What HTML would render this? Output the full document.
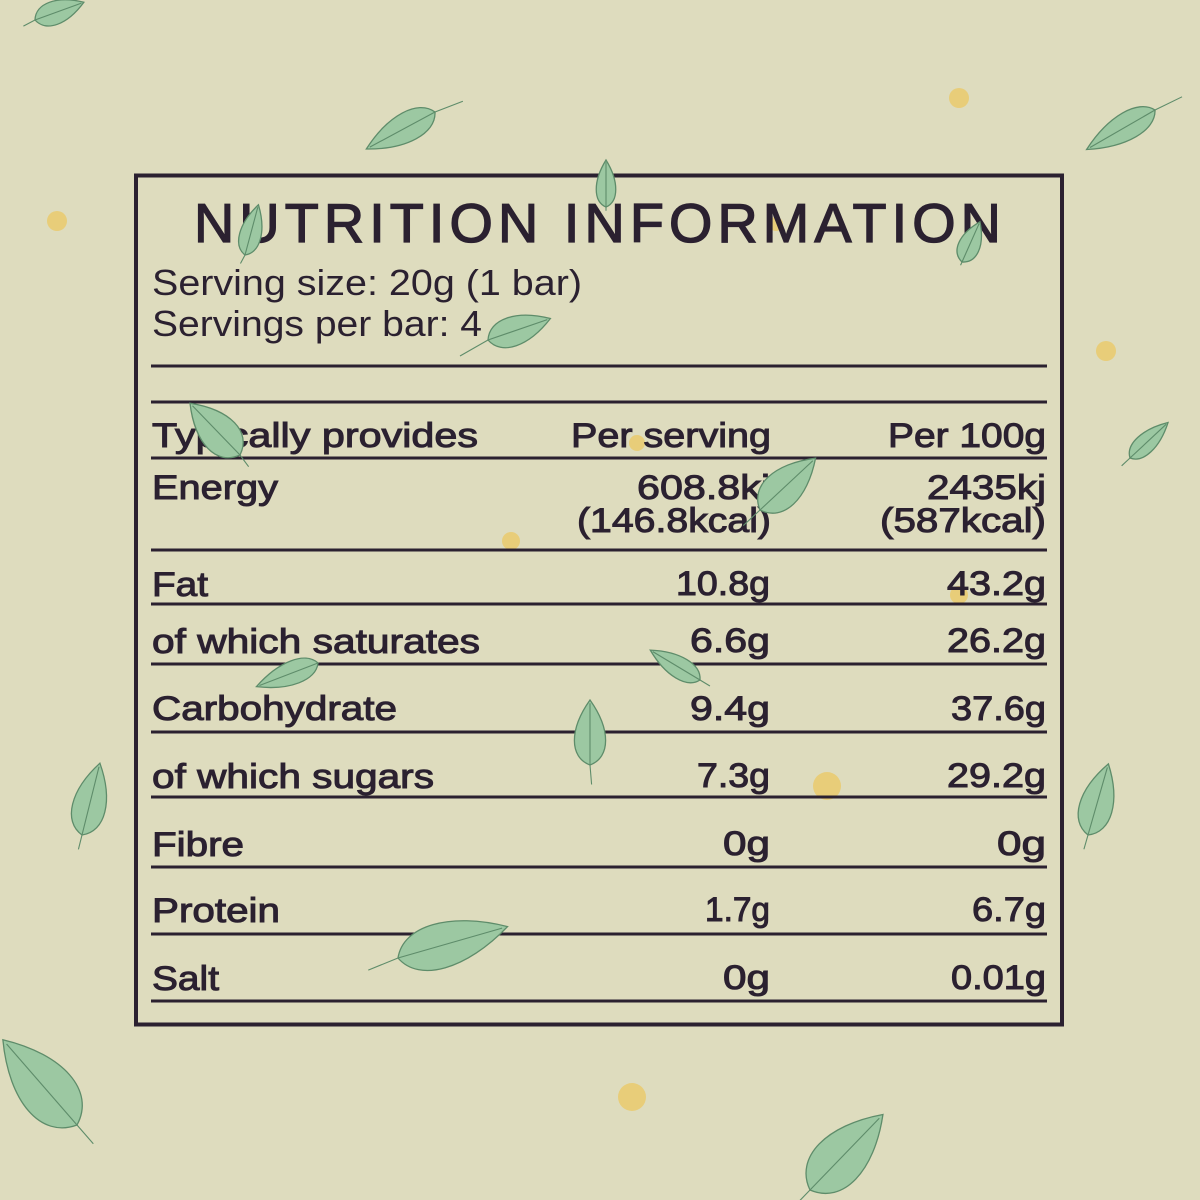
<!DOCTYPE html>
<html>
<head>
<meta charset="utf-8">
<style>
html,body{margin:0;padding:0;background:#dedcbe;}
svg{display:block;}
.t{font-family:"Liberation Sans",sans-serif;fill:#2b2130;}
.r{font-size:34px;stroke:#2b2130;stroke-width:1.0px;}
.lf{fill:#9cc8a2;stroke:#5e8c6a;stroke-width:1.3;}
.mr{fill:none;stroke:#5e8c6a;stroke-width:1.1;}
</style>
</head>
<body>
<svg width="1200" height="1200" viewBox="0 0 1200 1200" xmlns="http://www.w3.org/2000/svg">
<rect x="0" y="0" width="1200" height="1200" fill="#dedcbe"/>

<!-- dots -->
<g fill="#e8cd79">
<circle cx="959" cy="98" r="10"/>
<circle cx="57" cy="221" r="10"/>
<circle cx="1106" cy="351" r="10"/>
<circle cx="511" cy="541" r="9"/>
<circle cx="637" cy="443" r="8"/>
<circle cx="776" cy="224" r="7"/>
<circle cx="959" cy="595" r="9"/>
<circle cx="827" cy="786" r="14"/>
<circle cx="632" cy="1097" r="14"/>
</g>

<!-- box and lines -->
<rect x="136" y="175.5" width="926" height="849" fill="none" stroke="#2b2130" stroke-width="4"/>
<g stroke="#2b2130" stroke-width="3">
<line x1="151" y1="366" x2="1047" y2="366"/>
<line x1="151" y1="402" x2="1047" y2="402"/>
<line x1="151" y1="458" x2="1047" y2="458"/>
<line x1="151" y1="550" x2="1047" y2="550"/>
<line x1="151" y1="604" x2="1047" y2="604"/>
<line x1="151" y1="664" x2="1047" y2="664"/>
<line x1="151" y1="732" x2="1047" y2="732"/>
<line x1="151" y1="797" x2="1047" y2="797"/>
<line x1="151" y1="867" x2="1047" y2="867"/>
<line x1="151" y1="934" x2="1047" y2="934"/>
<line x1="151" y1="1001" x2="1047" y2="1001"/>
</g>

<!-- text -->
<text class="t" x="194" y="242" font-size="54.5" letter-spacing="5" textLength="812" lengthAdjust="spacingAndGlyphs" stroke="#2b2130" stroke-width="1.3">NUTRITION INFORMATION</text>
<text class="t" x="152" y="295" font-size="36" textLength="430" lengthAdjust="spacingAndGlyphs">Serving size: 20g (1 bar)</text>
<text class="t" x="152" y="336" font-size="36" textLength="330" lengthAdjust="spacingAndGlyphs">Servings per bar: 4</text>

<g class="t r">
<text x="152" y="447" textLength="326" lengthAdjust="spacingAndGlyphs">Typically provides</text>
<text x="771" y="447" text-anchor="end" textLength="200" lengthAdjust="spacingAndGlyphs">Per serving</text>
<text x="1046" y="447" text-anchor="end" textLength="158" lengthAdjust="spacingAndGlyphs">Per 100g</text>

<text x="152" y="499" textLength="126" lengthAdjust="spacingAndGlyphs">Energy</text>
<text x="770" y="499" text-anchor="end" textLength="133" lengthAdjust="spacingAndGlyphs">608.8kj</text>
<text x="771" y="532" text-anchor="end" textLength="194" lengthAdjust="spacingAndGlyphs">(146.8kcal)</text>
<text x="1046" y="499" text-anchor="end" textLength="119" lengthAdjust="spacingAndGlyphs">2435kj</text>
<text x="1046" y="532" text-anchor="end" textLength="166" lengthAdjust="spacingAndGlyphs">(587kcal)</text>

<text x="152" y="596" textLength="56" lengthAdjust="spacingAndGlyphs">Fat</text>
<text x="770" y="595" text-anchor="end" textLength="94" lengthAdjust="spacingAndGlyphs">10.8g</text>
<text x="1046" y="595" text-anchor="end" textLength="99" lengthAdjust="spacingAndGlyphs">43.2g</text>

<text x="152" y="653" textLength="328" lengthAdjust="spacingAndGlyphs">of which saturates</text>
<text x="770" y="652" text-anchor="end" textLength="80" lengthAdjust="spacingAndGlyphs">6.6g</text>
<text x="1046" y="652" text-anchor="end" textLength="99" lengthAdjust="spacingAndGlyphs">26.2g</text>

<text x="152" y="720" textLength="245" lengthAdjust="spacingAndGlyphs">Carbohydrate</text>
<text x="770" y="720" text-anchor="end" textLength="80" lengthAdjust="spacingAndGlyphs">9.4g</text>
<text x="1046" y="720" text-anchor="end" textLength="95" lengthAdjust="spacingAndGlyphs">37.6g</text>

<text x="152" y="788" textLength="282" lengthAdjust="spacingAndGlyphs">of which sugars</text>
<text x="770" y="787" text-anchor="end" textLength="73" lengthAdjust="spacingAndGlyphs">7.3g</text>
<text x="1046" y="787" text-anchor="end" textLength="99" lengthAdjust="spacingAndGlyphs">29.2g</text>

<text x="152" y="856" textLength="92" lengthAdjust="spacingAndGlyphs">Fibre</text>
<text x="770" y="855" text-anchor="end" textLength="47" lengthAdjust="spacingAndGlyphs">0g</text>
<text x="1046" y="855" text-anchor="end" textLength="49" lengthAdjust="spacingAndGlyphs">0g</text>

<text x="152" y="922" textLength="128" lengthAdjust="spacingAndGlyphs">Protein</text>
<text x="770" y="921" text-anchor="end" textLength="65" lengthAdjust="spacingAndGlyphs">1.7g</text>
<text x="1046" y="921" text-anchor="end" textLength="74" lengthAdjust="spacingAndGlyphs">6.7g</text>

<text x="152" y="990" textLength="67" lengthAdjust="spacingAndGlyphs">Salt</text>
<text x="770" y="989" text-anchor="end" textLength="47" lengthAdjust="spacingAndGlyphs">0g</text>
<text x="1046" y="989" text-anchor="end" textLength="95" lengthAdjust="spacingAndGlyphs">0.01g</text>
</g>

<!-- leaves: base at origin, tip at +x (100 units) -->
<g>
<g transform="translate(35,20) rotate(-20) scale(0.52,0.6)">
<path class="lf" vector-effect="non-scaling-stroke" d="M0,0 C12,-26 55,-26 100,0 C55,26 12,26 0,0 Z"/>
<path class="mr" vector-effect="non-scaling-stroke" d="M-25,3 L0,0 L95,0"/>
</g>
<g transform="translate(435,112) rotate(151.7) scale(0.78,0.75)">
<path class="lf" vector-effect="non-scaling-stroke" d="M0,0 C12,-26 55,-26 100,0 C55,26 12,26 0,0 Z"/>
<path class="mr" vector-effect="non-scaling-stroke" d="M-38,-5 L0,0 L95,0"/>
</g>
<g transform="translate(606,207) rotate(-90) scale(0.47,0.5)">
<path class="lf" vector-effect="non-scaling-stroke" d="M0,0 C12,-26 55,-26 100,0 C55,26 12,26 0,0 Z"/>
<path class="mr" vector-effect="non-scaling-stroke" d="M-8,0 L95,0"/>
</g>
<g transform="translate(1155,110) rotate(150) scale(0.79,0.7)">
<path class="lf" vector-effect="non-scaling-stroke" d="M0,0 C12,-26 55,-26 100,0 C55,26 12,26 0,0 Z"/>
<path class="mr" vector-effect="non-scaling-stroke" d="M-38,-3 L0,0 L95,0"/>
</g>
<g transform="translate(245,255) rotate(-75) scale(0.52,0.55)">
<path class="lf" vector-effect="non-scaling-stroke" d="M0,0 C12,-26 55,-26 100,0 C55,26 12,26 0,0 Z"/>
<path class="mr" vector-effect="non-scaling-stroke" d="M-18,-4 L0,0 L95,0"/>
</g>
<g transform="translate(962,262) rotate(-66) scale(0.44,0.55)">
<path class="lf" vector-effect="non-scaling-stroke" d="M0,0 C12,-26 55,-26 100,0 C55,26 12,26 0,0 Z"/>
<path class="mr" vector-effect="non-scaling-stroke" d="M-8,0 L95,0"/>
</g>
<g transform="translate(488,340) rotate(-19) scale(0.66,0.75)">
<path class="lf" vector-effect="non-scaling-stroke" d="M0,0 C12,-26 55,-26 100,0 C55,26 12,26 0,0 Z"/>
<path class="mr" vector-effect="non-scaling-stroke" d="M-48,8 L0,0 L95,0"/>
</g>
<g transform="translate(240,455) rotate(-134) scale(0.72,0.95)">
<path class="lf" vector-effect="non-scaling-stroke" d="M0,0 C12,-26 55,-26 100,0 C55,26 12,26 0,0 Z"/>
<path class="mr" vector-effect="non-scaling-stroke" d="M-20,-2 L0,0 L95,0"/>
</g>
<g transform="translate(1130,458) rotate(-43) scale(0.52,0.5)">
<path class="lf" vector-effect="non-scaling-stroke" d="M0,0 C12,-26 55,-26 100,0 C55,26 12,26 0,0 Z"/>
<path class="mr" vector-effect="non-scaling-stroke" d="M-22,0 L0,0 L95,0"/>
</g>
<g transform="translate(760,510) rotate(-43) scale(0.76,0.95)">
<path class="lf" vector-effect="non-scaling-stroke" d="M0,0 C12,-26 55,-26 100,0 C55,26 12,26 0,0 Z"/>
<path class="mr" vector-effect="non-scaling-stroke" d="M-30,0 L0,0 L95,0"/>
</g>
<g transform="translate(318,663) rotate(159) scale(0.66,0.6)">
<path class="lf" vector-effect="non-scaling-stroke" d="M0,0 C12,-26 55,-26 100,0 C55,26 12,26 0,0 Z"/>
<path class="mr" vector-effect="non-scaling-stroke" d="M0,0 L95,0"/>
</g>
<g transform="translate(700,680) rotate(-149) scale(0.58,0.55)">
<path class="lf" vector-effect="non-scaling-stroke" d="M0,0 C12,-26 55,-26 100,0 C55,26 12,26 0,0 Z"/>
<path class="mr" vector-effect="non-scaling-stroke" d="M-20,0 L0,0 L95,0"/>
</g>
<g transform="translate(590,765) rotate(-90) scale(0.65,0.8)">
<path class="lf" vector-effect="non-scaling-stroke" d="M0,0 C12,-26 55,-26 100,0 C55,26 12,26 0,0 Z"/>
<path class="mr" vector-effect="non-scaling-stroke" d="M-30,2 L0,0 L95,0"/>
</g>
<g transform="translate(82,835) rotate(-76) scale(0.74,0.85)">
<path class="lf" vector-effect="non-scaling-stroke" d="M0,0 C12,-26 55,-26 100,0 C55,26 12,26 0,0 Z"/>
<path class="mr" vector-effect="non-scaling-stroke" d="M-20,0 L0,0 L95,0"/>
</g>
<g transform="translate(1088,835) rotate(-74) scale(0.74,0.85)">
<path class="lf" vector-effect="non-scaling-stroke" d="M0,0 C12,-26 55,-26 100,0 C55,26 12,26 0,0 Z"/>
<path class="mr" vector-effect="non-scaling-stroke" d="M-20,0 L0,0 L95,0"/>
</g>
<g transform="translate(398,958) rotate(-16) scale(1.14,1.15)">
<path class="lf" vector-effect="non-scaling-stroke" d="M0,0 C12,-26 55,-26 100,0 C55,26 12,26 0,0 Z"/>
<path class="mr" vector-effect="non-scaling-stroke" d="M-28,3 L0,0 L95,0"/>
</g>
<g transform="translate(77,1125) rotate(-131) scale(1.13,1.4)">
<path class="lf" vector-effect="non-scaling-stroke" d="M0,0 C12,-26 55,-26 100,0 C55,26 12,26 0,0 Z"/>
<path class="mr" vector-effect="non-scaling-stroke" d="M-22,0 L0,0 L95,0"/>
</g>
<g transform="translate(810,1190) rotate(-46) scale(1.05,1.3)">
<path class="lf" vector-effect="non-scaling-stroke" d="M0,0 C12,-26 55,-26 100,0 C55,26 12,26 0,0 Z"/>
<path class="mr" vector-effect="non-scaling-stroke" d="M-20,0 L0,0 L95,0"/>
</g>
</g>
</svg>
</body>
</html>
